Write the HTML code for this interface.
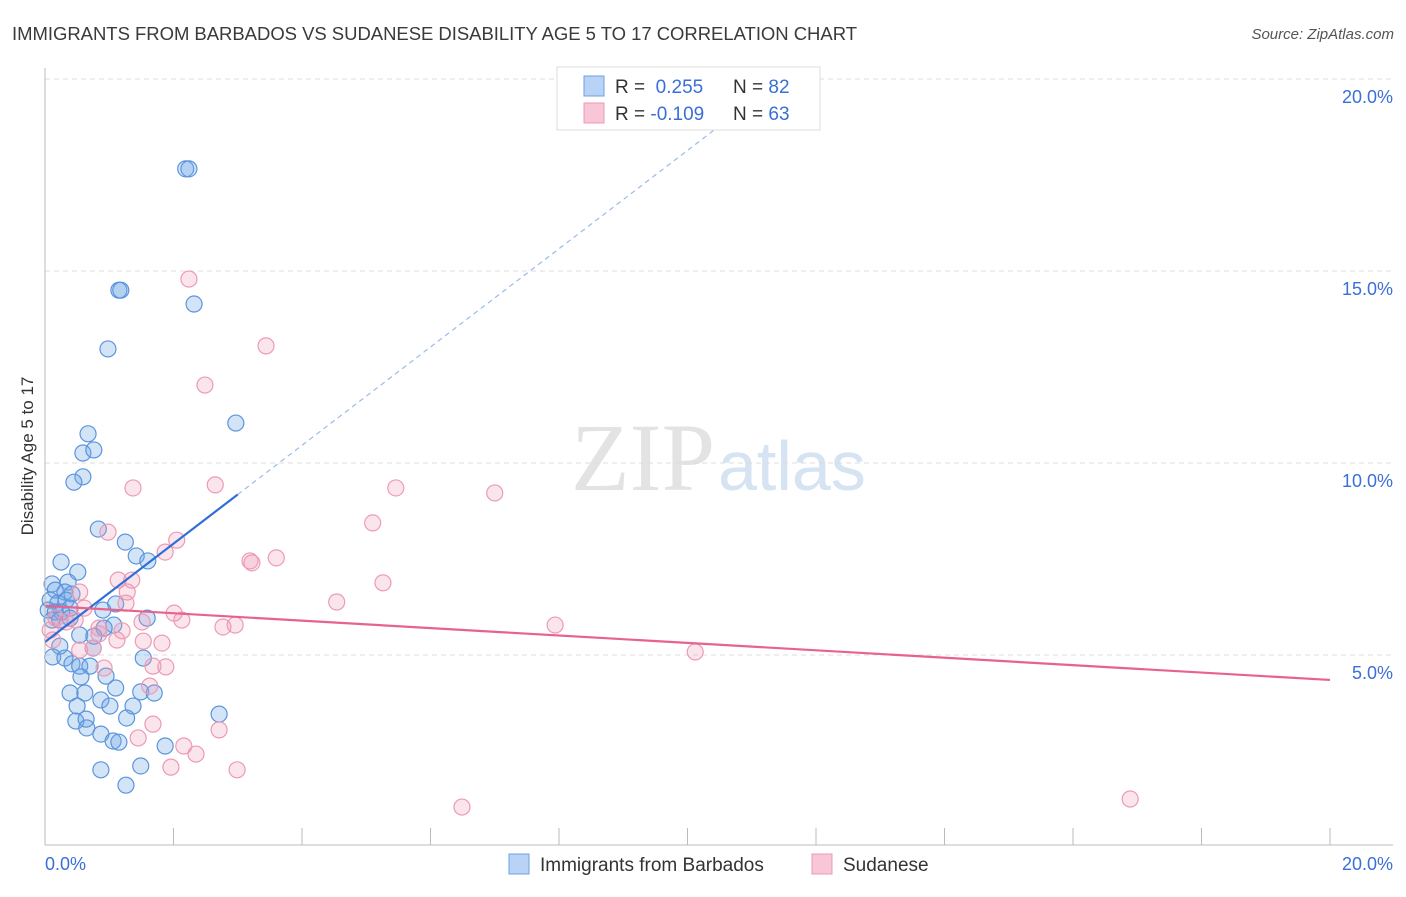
<!DOCTYPE html>
<html><head><meta charset="utf-8"><style>
body{margin:0;background:#fff;font-family:"Liberation Sans",sans-serif}
svg text{font-family:"Liberation Sans",sans-serif}
</style></head><body>
<svg id="chart" width="1406" height="892">
<text x="12" y="40" font-size="18.5" fill="#3a3a3a" textLength="845">IMMIGRANTS FROM BARBADOS VS SUDANESE DISABILITY AGE 5 TO 17 CORRELATION CHART</text>
<text x="1394" y="39" font-size="15" fill="#555" font-style="italic" text-anchor="end">Source: ZipAtlas.com</text>
<text x="0" y="0" transform="translate(33,456) rotate(-90)" font-size="17" fill="#333" text-anchor="middle">Disability Age 5 to 17</text>
<text x="715" y="490" font-size="96" fill="#e3e3e3" text-anchor="end" style="font-family:'Liberation Serif',serif">ZIP</text>
<text x="718" y="490" font-size="70" fill="#d5e3f3">atlas</text>
<g id="grid"></g><g id="pts"></g><g id="trend"></g>
<line x1="45" y1="68" x2="45" y2="845" stroke="#bbb"/>
<line x1="45" y1="845" x2="1393" y2="845" stroke="#bbb"/>
<text x="45" y="870" font-size="18" fill="#3a6fd8">0.0%</text>
<text x="1393" y="870" font-size="18" fill="#3a6fd8" text-anchor="end">20.0%</text>
<g>
<rect x="557" y="67" width="263" height="63" fill="#fff" stroke="#ddd"/>
<rect x="584" y="76" width="20" height="20" fill="#b8d3f5" stroke="#6ea0e3"/>
<rect x="584" y="103" width="20" height="20" fill="#f8c6d6" stroke="#ee9ab4"/>
<text x="615" y="93" font-size="19" fill="#333">R = <tspan fill="#3a6fd8">&#160;0.255</tspan></text>
<text x="733" y="93" font-size="19" fill="#333">N = <tspan fill="#3a6fd8">82</tspan></text>
<text x="615" y="120" font-size="19" fill="#333">R = <tspan fill="#3a6fd8">-0.109</tspan></text>
<text x="733" y="120" font-size="19" fill="#333">N = <tspan fill="#3a6fd8">63</tspan></text>
</g>
<g>
<rect x="509" y="854" width="20" height="20" fill="#b8d3f5" stroke="#6ea0e3"/>
<text x="540" y="871" font-size="19" fill="#333">Immigrants from Barbados</text>
<rect x="812" y="854" width="20" height="20" fill="#f8c6d6" stroke="#ee9ab4"/>
<text x="843" y="871" font-size="19" fill="#333">Sudanese</text>
</g>
</svg>
<script>
const yTicks=[5,10,15,20];
const xTicks=[2,4,6,8,10,12,14,16,18,20];
const blueX=[2.19,2.24,1.15,1.18,2.32,0.98,2.97,0.67,0.59,0.76,0.59,0.45,0.83,1.25,1.42,1.6,0.25,0.51,0.11,0.36,0.16,0.31,0.42,0.08,0.2,0.33,0.05,0.16,0.26,0.39,0.11,0.23,0.39,0.9,1.1,1.59,1.07,0.92,0.54,0.76,0.23,0.75,0.12,0.31,1.53,0.42,0.54,0.7,0.56,0.95,1.1,0.39,0.62,1.49,1.7,0.87,1.01,0.5,1.37,2.71,0.48,0.64,1.27,0.65,0.87,1.06,1.15,1.87,0.87,1.49,1.26];
const blueY=[17.66,17.66,14.5,14.5,14.14,12.97,11.04,10.76,10.26,10.34,9.64,9.5,8.28,7.94,7.58,7.45,7.42,7.16,6.85,6.9,6.69,6.64,6.59,6.43,6.35,6.43,6.17,6.12,6.12,6.22,5.91,5.91,5.96,6.17,6.33,5.96,5.78,5.7,5.52,5.49,5.23,5.18,4.95,4.92,4.92,4.77,4.71,4.71,4.43,4.45,4.14,4.01,4.01,4.04,4.01,3.83,3.67,3.67,3.67,3.46,3.28,3.33,3.36,3.1,2.94,2.76,2.73,2.63,2.01,2.11,1.61];
const pinkX=[2.24,3.44,2.49,1.37,2.65,5.46,7.0,5.1,0.98,2.05,1.87,3.19,3.22,3.6,1.14,1.35,5.26,1.28,0.54,4.54,1.26,0.61,2.01,2.13,0.17,0.33,0.08,0.47,1.51,0.84,2.77,2.96,1.2,7.94,0.84,1.12,1.53,0.75,1.82,10.12,0.54,0.92,1.68,1.88,1.63,1.68,2.71,1.45,2.16,2.35,1.96,2.99,6.49,16.89,0.12];
const pinkY=[14.79,13.05,12.03,9.35,9.43,9.35,9.22,8.44,8.2,7.99,7.68,7.45,7.4,7.53,6.95,6.95,6.88,6.64,6.64,6.38,6.35,6.22,6.09,5.91,5.96,5.86,5.65,5.91,5.86,5.7,5.73,5.78,5.63,5.78,5.55,5.39,5.36,5.18,5.31,5.08,5.13,4.66,4.71,4.69,4.19,3.2,3.05,2.84,2.63,2.42,2.08,2.01,1.04,1.25,5.39];
const blueTrend=[5.34,1.28]; // intercept, slope
const pinkTrend=[6.28,-0.0965];
const NS='http://www.w3.org/2000/svg';
const xs=v=>45+v*64.25, ys=v=>847-v*38.4;
function mk(t,a,p){const e=document.createElementNS(NS,t);for(const k in a)e.setAttribute(k,a[k]);p.appendChild(e);return e;}
const grid=document.getElementById('grid');
yTicks.forEach(t=>{
 const l=mk('line',{x1:45,x2:1393,y1:ys(t),y2:ys(t),stroke:'#ddd','stroke-dasharray':'5,4'},grid);
 
 
 const tx=mk('text',{x:1393,y:ys(t)+24,'font-size':18,fill:'#3a6fd8','text-anchor':'end'},grid);
 tx.textContent=t.toFixed(1)+'%';
 
 
});
xTicks.forEach(t=>{
 const l=mk('line',{x1:xs(t),x2:xs(t),y1:828,y2:845,stroke:'#bbb'},grid);
 
 
});
const pts=document.getElementById('pts');
blueX.forEach((x,i)=>{
 const c=mk('circle',{cx:xs(x),cy:ys(blueY[i]),r:8,fill:'rgba(110,165,230,0.3)',stroke:'#5b95dd','stroke-width':1.2},pts);
 
 
});
pinkX.forEach((x,i)=>{
 const c=mk('circle',{cx:xs(x),cy:ys(pinkY[i]),r:8,fill:'rgba(240,150,180,0.25)',stroke:'#ee9ab4','stroke-width':1.2},pts);
 
 
});
const tr=document.getElementById('trend');
const bf=v=>blueTrend[0]+blueTrend[1]*v;
let b1=mk('line',{x1:xs(0),y1:ys(bf(0)),x2:xs(3),y2:ys(bf(3)),stroke:'#2f6fd6','stroke-width':2.2},tr);


let b2=mk('line',{x1:xs(3),y1:ys(bf(3)),x2:xs(10.8),y2:ys(bf(10.8)),stroke:'#9bbbe8','stroke-width':1.2,'stroke-dasharray':'5,4'},tr);


const pf=v=>pinkTrend[0]+pinkTrend[1]*v;
let p1=mk('line',{x1:xs(0),y1:ys(pf(0)),x2:xs(20),y2:ys(pf(20)),stroke:'#e8628e','stroke-width':2.2},tr);


</script>
</body></html>
